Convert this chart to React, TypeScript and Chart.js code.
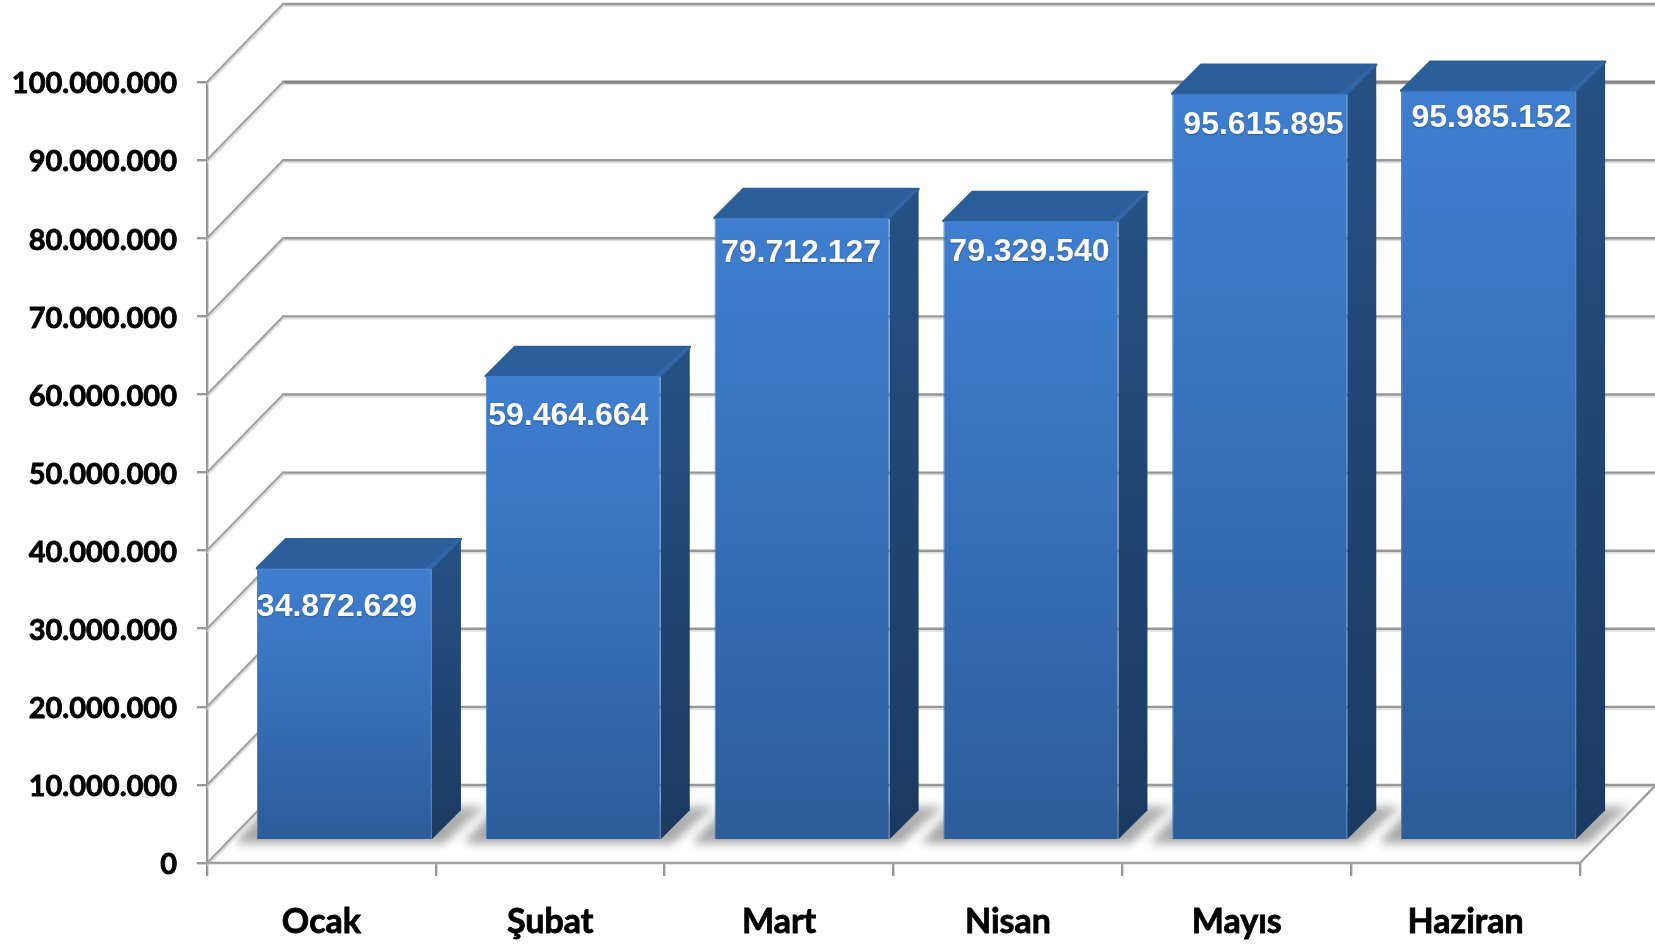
import React, { useEffect, useRef } from "react";
import { Chart, registerables } from "chart.js";

Chart.register(...registerables);

const categories = ["Ocak", "Şubat", "Mart", "Nisan", "Mayıs", "Haziran"];
const values = [34872629, 59464664, 79712127, 79329540, 95615895, 95985152];
const yMax = 100000000;
const yStep = 10000000;

// layout of the pseudo-3D scene, in pixels
const WALL_DX = 76;
const WALL_DY = 78;
const BAR_SHIFT_X = 23;
const BAR_SHIFT_Y = 22.5;
const BAR_DEPTH = 29;
// label nudge relative to the bar's front face (dx from centre, dy from top)
const labelDx = [-7.5, -5, -1, -1.5, 3.7, 3];
const labelDy = [38.6, 39.7, 35.7, 31.7, 31.8, 27.7];

const fmt = (n: number) => String(n).replace(/\B(?=(\d{3})+(?!\d))/g, ".");
const Y_FONT = { family: "Lato, Carlito, sans-serif", size: 29, weight: "bold" as const };
const X_FONT = { family: "Lato, Carlito, sans-serif", size: 34, weight: "bold" as const };

function line(ctx: CanvasRenderingContext2D, pts: number[][], color: string, w: number) {
  ctx.beginPath();
  pts.forEach((p, i) => (i ? ctx.lineTo(p[0], p[1]) : ctx.moveTo(p[0], p[1])));
  ctx.strokeStyle = color;
  ctx.lineWidth = w;
  ctx.stroke();
}

const scene3d = {
  id: "scene3d",
  beforeDatasetsDraw(chart: any) {
    const { ctx, chartArea: a, scales } = chart;
    const y = scales.y;
    ctx.save();
    ctx.lineCap = "round";
    ctx.lineJoin = "round";
    const by = y.getPixelForValue(0);
    const meta = chart.getDatasetMeta(0);
    y.ticks.forEach((t: any) => {
      const py = y.getPixelForValue(t.value);
      const wall = [
        [a.left + WALL_DX, py - WALL_DY],
        [chart.width, py - WALL_DY],
      ];
      line(ctx, wall.map((p) => [p[0], p[1] + 2]), "#e0e0e0", 2);
      const strong = t.value === 90000000;
      line(ctx, wall, strong ? "#858585" : "#989898", strong ? 3.2 : 2.4);
    });
    // floor shadows (above the back wall's base line, under the diagonals)
    ctx.save();
    ctx.filter = "blur(5px)";
    const sy = by - BAR_SHIFT_Y;
    const sg = ctx.createLinearGradient(0, sy - 33, 0, sy + 4);
    sg.addColorStop(0, "#b4b4b4");
    sg.addColorStop(1, "#a4a4a4");
    ctx.fillStyle = sg;
    meta.data.forEach((b: any) => {
      const x0 = b.x - b.width / 2 + BAR_SHIFT_X;
      const x1 = b.x + b.width / 2 + BAR_SHIFT_X;
      const yb = b.base - BAR_SHIFT_Y;
      ctx.beginPath();
      ctx.moveTo(x0 - 22, yb + 4);
      ctx.lineTo(x1 + 12, yb + 4);
      ctx.lineTo(x1 + 54, yb - 33);
      ctx.lineTo(x0 + 10, yb - 33);
      ctx.closePath();
      ctx.fill();
    });
    ctx.restore();
    y.ticks.forEach((t: any) => {
      const py = y.getPixelForValue(t.value);
      const diag = [
        [a.left, py],
        [a.left + WALL_DX, py - WALL_DY],
      ];
      line(ctx, diag.map((p) => [p[0] + 1, p[1] + 2]), "#dedede", 2);
      line(ctx, diag, "#a2a2a2", 2.2);
    });
    // floor
    line(ctx, [[a.left, by], [a.right, by], [a.right + WALL_DX, by - WALL_DY]], "#a0a0a0", 2.4);
    ctx.restore();
  },
  beforeDatasetDraw(chart: any) {
    const { ctx } = chart;
    ctx.save();
    ctx.lineJoin = "round";
    chart.getDatasetMeta(0).data.forEach((b: any) => {
      const x0 = b.x - b.width / 2 + BAR_SHIFT_X;
      const x1 = b.x + b.width / 2 + BAR_SHIFT_X;
      const yt = b.y - BAR_SHIFT_Y;
      const yb = b.base - BAR_SHIFT_Y;
      const d = BAR_DEPTH;
      // side
      const gs = ctx.createLinearGradient(0, yt, 0, yb);
      gs.addColorStop(0, "#264f82");
      gs.addColorStop(1, "#1b3a61");
      ctx.fillStyle = gs;
      ctx.beginPath();
      ctx.moveTo(x1, yt);
      ctx.lineTo(x1 + d, yt - d);
      ctx.lineTo(x1 + d, yb - d);
      ctx.lineTo(x1, yb);
      ctx.closePath();
      ctx.fill();
      // top
      ctx.fillStyle = "#2c5e99";
      ctx.strokeStyle = "#2c5e99";
      ctx.lineWidth = 2.5;
      ctx.beginPath();
      ctx.moveTo(x0, yt);
      ctx.lineTo(x0 + d, yt - d);
      ctx.lineTo(x1 + d, yt - d);
      ctx.lineTo(x1, yt);
      ctx.closePath();
      ctx.fill();
      ctx.stroke();
      // lighter edge where top meets side
      ctx.fillStyle = "#3167a8";
      ctx.beginPath();
      ctx.moveTo(x1 - 7, yt);
      ctx.lineTo(x1 + d - 3, yt - d);
      ctx.lineTo(x1 + d, yt - d);
      ctx.lineTo(x1, yt);
      ctx.closePath();
      ctx.fill();
    });
    ctx.restore();
    ctx.save();
    ctx.translate(BAR_SHIFT_X, -BAR_SHIFT_Y);
  },
  afterDatasetDraw(chart: any) {
    chart.ctx.restore();
  },
  afterDatasetsDraw(chart: any) {
    const { ctx } = chart;
    ctx.save();
    ctx.font = 'bold 32px "Liberation Sans", Arial, sans-serif';
    ctx.textAlign = "center";
    ctx.textBaseline = "middle";
    ctx.fillStyle = "#ffffff";
    ctx.shadowColor = "rgba(0,0,0,0.25)";
    ctx.shadowBlur = 2;
    ctx.shadowOffsetY = 1;
    chart.getDatasetMeta(0).data.forEach((b: any, i: number) => {
      ctx.fillText(fmt(values[i]), b.x + BAR_SHIFT_X + labelDx[i], b.y - BAR_SHIFT_Y + labelDy[i]);
    });
    ctx.restore();
  },
};

export default function App() {
  const ref = useRef<HTMLCanvasElement | null>(null);
  useEffect(() => {
    document.body.style.margin = "0";
    document.body.style.background = "#ffffff";
    const chart = new Chart(ref.current as HTMLCanvasElement, {
      type: "bar",
      data: {
        labels: categories,
        datasets: [
          {
            data: values,
            barPercentage: 0.765,
            categoryPercentage: 1,
            borderWidth: 1,
            borderColor: "#3f7cc6",
            backgroundColor: (c: any) => {
              const { chart: ch, raw } = c;
              const s = ch.scales.y;
              if (!s || raw == null || !ch.chartArea) return "#3569ab";
              const g = ch.ctx.createLinearGradient(0, s.getPixelForValue(raw), 0, s.getPixelForValue(0));
              g.addColorStop(0, "#3f7ed0");
              g.addColorStop(0.35, "#3a74bf");
              g.addColorStop(1, "#2c5c99");
              return g;
            },
          },
        ],
      },
      plugins: [scene3d],
      options: {
        responsive: false,
        animation: false,
        layout: { padding: { top: 82, right: 75, left: 0, bottom: 0 } },
        plugins: { legend: { display: false }, tooltip: { enabled: false }, title: { display: false } },
        scales: {
          x: {
            afterFit: (s: any) => {
              s.height = 82;
            },
            grid: { drawOnChartArea: false, drawTicks: true, tickLength: 13, color: "#989898", lineWidth: 2.4 },
            border: { display: false },
            ticks: {
              color: "#000000",
              font: X_FONT,
              padding: 26,
              maxRotation: 0,
              textStrokeColor: "#000000",
              textStrokeWidth: 0.8,
            },
          },
          y: {
            min: 0,
            max: yMax,
            afterFit: (s: any) => {
              s.width = 207;
            },
            grid: { drawOnChartArea: false, drawTicks: true, tickLength: 10, color: "#989898", lineWidth: 2.4 },
            border: { display: true, color: "#989898", width: 2.4 },
            ticks: {
              stepSize: yStep,
              color: "#000000",
              font: Y_FONT,
              padding: 20,
              labelOffset: 2,
              textStrokeColor: "#000000",
              textStrokeWidth: 0.8,
              callback: (v: any) => fmt(Number(v)),
            },
          },
        },
      },
    } as any);
    return () => chart.destroy();
  }, []);
  return (
    <div style={{ position: "absolute", left: 0, top: 0, width: 1655, height: 945, overflow: "hidden" }}>
      <canvas ref={ref} width={1655} height={945} style={{ display: "block" }} />
    </div>
  );
}
